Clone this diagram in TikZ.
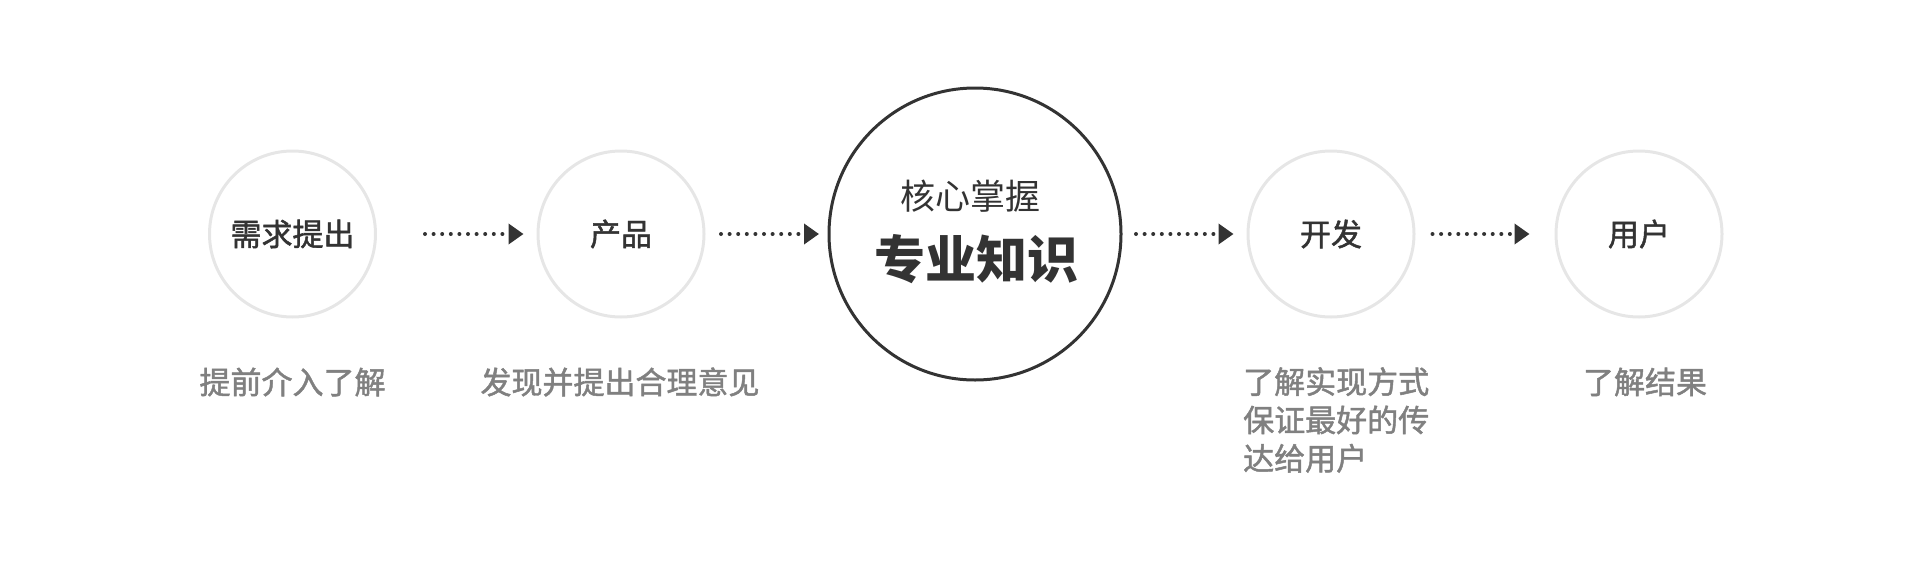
\documentclass[tikz,border=0pt]{standalone}
\usepackage{fontspec}
\setmainfont{Noto Sans CJK SC}
\newfontfamily\midfont[FakeBold=1.5]{Noto Sans CJK SC}
\usetikzlibrary{arrows.meta,positioning}
\definecolor{ink}{HTML}{333333}
\definecolor{ring}{HTML}{E6E6E6}
\definecolor{note}{HTML}{808080}

\begin{document}
\begin{tikzpicture}[x=1pt,y=-1pt,
    stage/.style={circle,draw=ring,line width=3pt,minimum size=166pt,inner sep=0pt,text=ink,font=\fontsize{31}{31}\midfont},
    hub/.style={circle,draw=ink,line width=3pt,minimum size=292pt,inner sep=0pt},
    flow/.style={ink,line width=4pt,line cap=round,dash pattern=on 0pt off 8.6pt,-{Triangle[length=15pt,width=20pt]}},
    remark/.style={text=note,inner sep=0pt,font=\fontsize{31}{38.3}\midfont}]
  \useasboundingbox (0,0) rectangle (1920,560);
  % the five stages
  \node[stage] (demand) at (292.5,234) {需求提出};
  \node[stage] (product) at (621,234) {产品};
  \node[hub] (core) at (975,234) {};
  \node[stage] (dev) at (1331,234) {开发};
  \node[stage] (user) at (1639,234) {用户};
  % text in the big circle
  \node[text=ink,inner sep=0pt,font=\fontsize{35}{35}\selectfont] (grasp) at ([xshift=-5pt,yshift=38pt]core.center) {核心掌握};
  \node[text=ink,inner sep=0pt,font=\fontsize{51}{51}\selectfont\bfseries] (knowledge) at ([xshift=1pt,yshift=-25pt]core.center) {专业知识};
  % dotted arrows
  \draw[flow] ([xshift=48pt]demand.east) -- ([xshift=-13pt]product.west);
  \draw[flow] ([xshift=15.5pt]product.east) -- ([xshift=-8.5pt]core.west);
  \draw[flow] ([xshift=13.5pt]core.east) -- ([xshift=-13pt]dev.west);
  \draw[flow] ([xshift=17pt]dev.east) -- ([xshift=-25pt]user.west);
  % notes below
  \node[remark] (early) at (292.5,382) {提前介入了解};
  \node[remark] (advice) at (620,382) {发现并提出合理意见};
  \node[remark,anchor=north west,align=left] (deliver) at (1243,367) {了解实现方式\\保证最好的传\\达给用户};
  \node[remark] (result) at (1645,382) {了解结果};
\end{tikzpicture}
\end{document}
